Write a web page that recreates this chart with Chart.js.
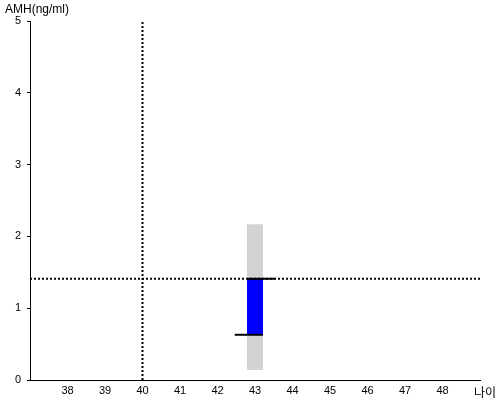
<!DOCTYPE html>
<html>
<head>
<meta charset="utf-8">
<script src="https://cdn.jsdelivr.net/npm/chart.js@4"></script>
<style>
  html, body { margin: 0; padding: 0; background: #fff; }
  #wrap { width: 500px; height: 400px; }
</style>
</head>
<body>
<div id="wrap"><canvas id="amhChart" width="500" height="400"></canvas></div>
<script>
// axis ranges and ticks
const ageRange = [37, 49];
const ageTicks = [38, 39, 40, 41, 42, 43, 44, 45, 46, 47, 48];
const amhRange = [0, 5];
const amhTicks = [0, 1, 2, 3, 4, 5];

// reference lines
const refAge = 40;
const refAmh = 1.41;

// patient values
const patientAge = 43;
const normalRange = [0.14, 2.17];
const patientRange = [0.63, 1.41];
const upperMarkAge = [42.79, 43.54];
const lowerMarkAge = [42.46, 43.21];

const yTitle = "AMH(ng/ml)";
const xTitle = "나이";

document.addEventListener("DOMContentLoaded", () => {
  const canvas = document.getElementById("amhChart");

  const axisTitles = {
    id: "axisTitles",
    afterDraw(chart) {
      const ctx = chart.ctx;
      ctx.save();
      ctx.fillStyle = "#000";
      ctx.textBaseline = "middle";
      ctx.textAlign = "left";
      ctx.font = "12px 'Liberation Sans', Arial, sans-serif";
      ctx.fillText(yTitle, 5, 10);
      ctx.font = "12px 'Noto Sans CJK KR', sans-serif";
      ctx.fillText(xTitle, 474, 392);
      ctx.restore();
    }
  };

  const seg = (x0, y0, x1, y1) => [{ x: x0, y: y0 }, { x: x1, y: y1 }];

  new Chart(canvas.getContext("2d"), {
    type: "scatter",
    data: {
      datasets: [
        {
          label: "upper",
          data: seg(upperMarkAge[0], patientRange[1], upperMarkAge[1], patientRange[1]),
          borderColor: "#000",
          borderWidth: 2,
          order: 1
        },
        {
          label: "lower",
          data: seg(lowerMarkAge[0], patientRange[0], lowerMarkAge[1], patientRange[0]),
          borderColor: "#000",
          borderWidth: 2,
          order: 1
        },
        {
          label: "refAmh",
          data: seg(ageRange[0], refAmh, ageRange[1], refAmh),
          borderColor: "#000",
          borderWidth: 2,
          borderDash: [2, 2],
          order: 3
        },
        {
          label: "refAge",
          data: seg(refAge, amhRange[0], refAge, amhRange[1]),
          borderColor: "#000",
          borderWidth: 2,
          borderDash: [2, 2],
          order: 3
        },
        {
          label: "patient",
          data: seg(patientAge, patientRange[0], patientAge, patientRange[1]),
          borderColor: "#0000ff",
          borderWidth: 16,
          order: 4
        },
        {
          label: "normal",
          data: seg(patientAge, normalRange[0], patientAge, normalRange[1]),
          borderColor: "#d3d3d3",
          borderWidth: 16,
          order: 5
        }
      ]
    },
    options: {
      responsive: false,
      animation: false,
      showLine: true,
      elements: {
        point: { radius: 0, hoverRadius: 0 },
        line: { borderCapStyle: "butt", tension: 0, fill: false }
      },
      layout: { padding: { top: 21, right: 20, left: 0, bottom: 0 } },
      plugins: {
        legend: { display: false },
        tooltip: { enabled: false }
      },
      scales: {
        x: {
          type: "linear",
          min: ageRange[0],
          max: ageRange[1],
          afterBuildTicks: axis => { axis.ticks = ageTicks.map(v => ({ value: v })); },
          afterFit: scale => { scale.height = 20; },
          grid: { display: false, drawTicks: false },
          border: { display: true, color: "#000", width: 1 },
          ticks: {
            color: "#000",
            padding: 4,
            maxRotation: 0,
            autoSkip: false,
            font: { family: "'Liberation Sans', Arial, sans-serif", size: 11 }
          }
        },
        y: {
          type: "linear",
          min: amhRange[0],
          max: amhRange[1],
          afterBuildTicks: axis => { axis.ticks = amhTicks.map(v => ({ value: v })); },
          afterFit: scale => { scale.width = 30; },
          grid: { drawOnChartArea: false, drawTicks: true, tickLength: 3, color: "#000" },
          border: { display: true, color: "#000", width: 1 },
          ticks: {
            color: "#000",
            padding: 6,
            font: { family: "'Liberation Sans', Arial, sans-serif", size: 11 }
          }
        }
      }
    },
    plugins: [axisTitles]
  });
});
</script>
</body>
</html>
